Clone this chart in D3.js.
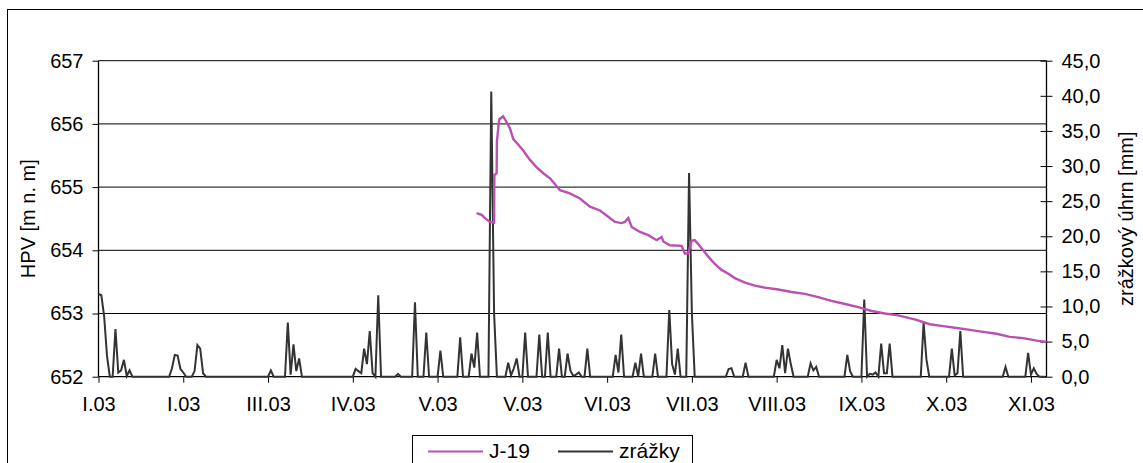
<!DOCTYPE html>
<html>
<head>
<meta charset="utf-8">
<script src="https://cdn.jsdelivr.net/npm/d3@7"></script>
<style>
  html, body { margin: 0; padding: 0; background: #fff; }
  svg { display: block; font-family: "Liberation Sans", Arial, sans-serif; }
</style>
</head>
<body>
<svg id="chart" width="1143" height="463"></svg>
<script>
// ---- data ----
const xTickDays = [0, 30, 60, 90, 120, 150, 180, 210, 240, 270, 300, 330];
const xTickLabels = ["I.03", "I.03", "III.03", "IV.03", "V.03", "V.03", "VI.03", "VII.03", "VIII.03", "IX.03", "X.03", "XI.03"];
const leftTicks = [652, 653, 654, 655, 656, 657];
const rightTicks = [0, 5, 10, 15, 20, 25, 30, 35, 40, 45];

// precipitation (zrážky): days with non-zero rain (day index from 1.1.2003) and mm
const rainDays = [0, 1, 2, 3, 6, 7, 8, 9, 10, 11, 26, 27, 28, 29, 30, 34, 35, 36, 37, 61,
  67, 68, 69, 70, 71, 91, 92, 93, 94, 95, 96, 97, 99, 106, 112, 116, 121, 128, 132, 133, 134,
  139, 140, 145, 146, 147, 148, 151, 156, 159, 163, 166, 167, 168, 169, 170, 173,
  183, 184, 185, 190, 192, 197, 202, 203, 204, 205, 209, 210,
  223, 224, 229, 240, 241, 242, 243, 244, 245, 252, 253, 254, 265, 266, 271,
  273, 274, 275, 277, 278, 279, 280, 292, 293, 302, 303, 304, 305, 321, 329, 330, 331, 332];
const rainMm = [11.8, 11.6, 8.6, 3.0, 6.8, 0.6, 0.9, 2.4, 0.1, 0.9, 1.2, 3.1, 3.0, 1.1, 0.6, 0.8, 4.5, 4.0, 0.5, 0.9,
  7.7, 0.3, 4.6, 0.8, 2.6, 1.1, 0.8, 0.5, 4.0, 1.8, 6.5, 0.5, 11.6, 0.4, 10.6, 6.3, 3.7, 5.6, 3.3, 1.3, 6.3,
  40.6, 9.0, 2.0, 0.2, 1.2, 2.6, 6.3, 6.0, 6.3, 4.0, 3.3, 0.9, 0.1, 0.3, 0.6, 4.0,
  3.1, 0.6, 6.0, 2.0, 3.3, 3.3, 9.5, 1.8, 0.3, 4.0, 29.0, 9.0,
  1.1, 1.2, 2.0, 2.4, 1.2, 4.5, 0.5, 4.0, 1.8, 1.9, 0.9, 1.4, 3.1, 0.8, 11.0,
  0.4, 0.3, 0.6, 4.7, 0.5, 0.5, 4.7, 7.7, 2.5, 4.0, 0.2, 0.5, 6.5, 1.4, 3.4, 0.3, 1.2, 0.4];
const lastDay = 335;

// groundwater level J-19 (HPV, m n. m.)
const j19Days = [133.8, 135.6, 136.8, 138.5, 140.0, 140.1, 140.9, 141.0, 141.8, 143.2, 144.4, 145.6, 146.8,
  148.6, 150.3, 152.7, 155.1, 157.4, 159.8, 163.3, 166.8, 170.4, 173.9, 177.5, 180.4, 182.8, 185.1,
  186.3, 187.5, 188.7, 191.6, 194.6, 197.5, 199.3, 199.9, 202.2, 206.4, 207.5, 208.7, 209.9, 211.0,
  212.0, 214.0, 215.8, 218.2, 220.5, 222.9, 225.2, 228.8, 232.3, 235.8, 240.6, 245.3, 250.0, 254.7,
  259.4, 264.2, 268.9, 273.6, 278.3, 283.0, 289.5, 294.2, 298.9, 303.7, 308.4, 313.1, 317.8, 322.5,
  327.2, 332.0, 335.5];
const j19Level = [654.59, 654.56, 654.51, 654.45, 654.44, 655.19, 655.22, 655.72, 656.07, 656.12, 656.03, 655.93, 655.76,
  655.67, 655.58, 655.43, 655.31, 655.22, 655.14, 654.95, 654.90, 654.82, 654.69, 654.63, 654.53, 654.45, 654.43,
  654.45, 654.51, 654.37, 654.29, 654.24, 654.16, 654.21, 654.14, 654.08, 654.07, 653.95, 653.95, 654.15, 654.16,
  654.11, 654.00, 653.90, 653.78, 653.69, 653.63, 653.56, 653.49, 653.44, 653.41, 653.38, 653.34, 653.31, 653.26,
  653.20, 653.15, 653.10, 653.04, 653.00, 652.97, 652.90, 652.83, 652.80, 652.77, 652.74, 652.71, 652.68, 652.63,
  652.61, 652.57, 652.55];

// ---- build series ----
const rainMap = new Map(rainDays.map((d, i) => [d, rainMm[i]]));
const rainSeries = d3.range(0, lastDay + 1).map(d => ({ day: d, v: rainMap.has(d) ? rainMap.get(d) : 0 }));
const j19Series = j19Days.map((d, i) => ({ day: d, v: j19Level[i] }));

// ---- layout ----
const svg = d3.select("#chart");
const fontSize = 20;
const plotL = 98.5, plotR = 1046.5, plotT = 60.7, plotB = 376.7;

const x = d3.scaleLinear().domain([0, 335.5]).range([plotL, plotR]);
const yL = d3.scaleLinear().domain([652, 657]).range([plotB, plotT]);
const yR = d3.scaleLinear().domain([0, 45]).range([plotB, plotT]);

// outer frame (extends beyond the visible area)
svg.append("rect").attr("x", 7.5).attr("y", 9.5).attr("width", 1200).attr("height", 500)
  .attr("fill", "none").attr("stroke", "#000").attr("stroke-width", 1);

// gridlines
svg.append("g").selectAll("line").data(leftTicks.slice(1)).join("line")
  .attr("x1", plotL).attr("x2", plotR)
  .attr("y1", d => yL(d)).attr("y2", d => yL(d))
  .attr("stroke", "#000").attr("stroke-width", 1);

// left axis
const gL = svg.append("g").attr("transform", `translate(${plotL},0)`)
  .call(d3.axisLeft(yL).tickValues(leftTicks).tickFormat(d3.format("d")).tickSize(6).tickPadding(9));
// right axis
const gR = svg.append("g").attr("transform", `translate(${plotR},0)`)
  .call(d3.axisRight(yR).tickValues(rightTicks).tickFormat(d => d3.format(".1f")(d).replace(".", ",")).tickSize(6).tickPadding(9));
gR.selectAll(".tick line").attr("x1", -6);
// bottom axis
const gB = svg.append("g").attr("transform", `translate(0,${plotB})`)
  .call(d3.axisBottom(x).tickValues(xTickDays).tickFormat((d, i) => xTickLabels[i]).tickSize(6).tickPadding(14));

[gL, gR, gB].forEach(g => {
  g.selectAll("text").attr("font-size", fontSize).attr("fill", "#000").attr("font-family", '"Liberation Sans", Arial, sans-serif');
  g.selectAll("line, path").attr("stroke", "#000");
  g.select(".domain").attr("stroke", "#000").attr("stroke-width", 1.3);
});
gB.select(".domain").attr("d", `M${plotL},0H${plotR}`);
gL.select(".domain").attr("d", `M0,${plotB}V${plotT}`);
gR.select(".domain").attr("d", `M0,${plotB}V${plotT}`);

// axis titles
svg.append("text").attr("transform", `translate(35,${(plotT + plotB) / 2}) rotate(-90)`)
  .attr("text-anchor", "middle").attr("font-size", fontSize).text("HPV [m n. m]");
svg.append("text").attr("transform", `translate(1133,${(plotT + plotB) / 2}) rotate(-90)`)
  .attr("text-anchor", "middle").attr("font-size", fontSize).text("zrážkový úhrn [mm]");

// precipitation line
svg.append("path").datum(rainSeries)
  .attr("fill", "none").attr("stroke", "#333").attr("stroke-width", 2).attr("stroke-linejoin", "miter")
  .attr("d", d3.line().x(d => x(d.day)).y(d => yR(d.v)));

// J-19 line
svg.append("path").datum(j19Series)
  .attr("fill", "none").attr("stroke", "#bb4fb2").attr("stroke-width", 2.4)
  .attr("d", d3.line().x(d => x(d.day)).y(d => yL(d.v)));

// legend
const lg = svg.append("g");
lg.append("rect").attr("x", 412.5).attr("y", 435.5).attr("width", 280).attr("height", 60)
  .attr("fill", "#fff").attr("stroke", "#000").attr("stroke-width", 1);
const legendItems = [
  { label: "J-19", color: "#bb4fb2", x0: 428 },
  { label: "zrážky", color: "#333", x0: 558 }
];
legendItems.forEach(it => {
  lg.append("line").attr("x1", it.x0).attr("x2", it.x0 + 55).attr("y1", 451.5).attr("y2", 451.5)
    .attr("stroke", it.color).attr("stroke-width", 2);
  lg.append("text").attr("x", it.x0 + 61).attr("y", 457.5).attr("font-size", fontSize + 1).text(it.label);
});
</script>
</body>
</html>
